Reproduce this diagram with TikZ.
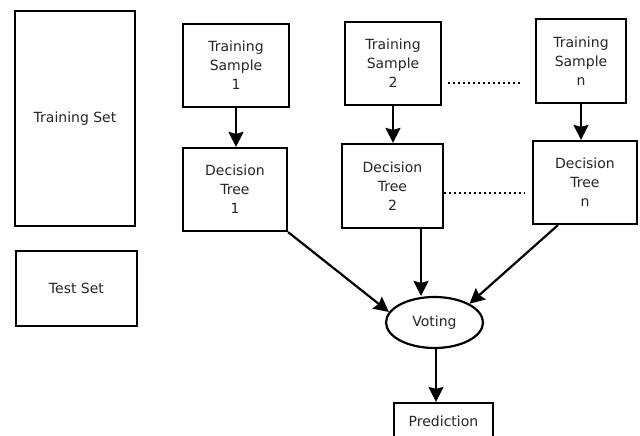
\documentclass[tikz,border=0pt]{standalone}
\usepackage{fontspec}
\setmainfont{DejaVu Sans}
\usetikzlibrary{arrows.meta,shapes.geometric}
\begin{document}
\begin{tikzpicture}[x=1pt,y=-1pt,
  box/.style={draw=black,line width=2.2pt,rectangle,inner sep=0pt,align=center,
    font=\fontsize{14}{19}\selectfont,text=black!85},
  arr/.style={line width=2.2pt,-{Stealth[length=15pt,width=15pt,inset=2pt]}},
  dots/.style={line width=2.4pt,dash pattern=on 2.4pt off 2.6pt}]
\useasboundingbox (0,0) rectangle (640,436);
\clip (0,0) rectangle (640,436);
\fill[white] (0,0) rectangle (640,436);
\node[box,minimum width=120pt,minimum height=215pt] (trainset) at (75,118.5) {Training Set};
\node[box,minimum width=121pt,minimum height=75pt] (testset) at (76.5,288.5) {Test Set};
\node[box,minimum width=106pt,minimum height=83pt] (ts1) at (236,65.5) {Training\\Sample\\1};
\node[box,minimum width=96pt,minimum height=83pt] (ts2) at (393,63.5) {Training\\Sample\\2};
\node[box,minimum width=90pt,minimum height=84pt] (tsn) at (581,61) {Training\\Sample\\n};
\node[box,minimum width=104pt,minimum height=83pt] (dt1) at (235,189.5) {Decision\\Tree\\1};
\node[box,minimum width=101pt,minimum height=84pt] (dt2) at (392.5,186) {Decision\\Tree\\2};
\node[box,minimum width=104pt,minimum height=83pt] (dtn) at (585,182.5) {Decision\\Tree\\n};
\node[box,ellipse,minimum width=97pt,minimum height=51pt] (voting) at (434.5,322.5) {Voting};
\node[box,minimum width=99pt,minimum height=37pt] (pred) at (443.5,421.5) {Prediction};
\draw[arr] (ts1.south) -- (ts1.south |- dt1.north);
\draw[arr] (ts2.south) -- (ts2.south |- dt2.north);
\draw[arr] (tsn.south) -- (tsn.south |- dtn.north);
\draw[arr] (dt1.south east) -- (voting.167);
\draw[arr] ([xshift=28.5pt]dt2.south) -- ([xshift=28.5pt]dt2.south |- voting.north);
\draw[arr] ([xshift=-27pt]dtn.south) -- (voting.north east);
\draw[arr] ([xshift=1.5pt]voting.south) -- ([xshift=1.5pt]voting.south |- pred.north);
\coordinate (a1) at (448,83);
\coordinate (a2) at (520,83);
\coordinate (b1) at (444,193);
\coordinate (b2) at (525,193);
\draw[dots] (a1) -- (a2);
\draw[dots] (b1) -- (b2);
\end{tikzpicture}
\end{document}
